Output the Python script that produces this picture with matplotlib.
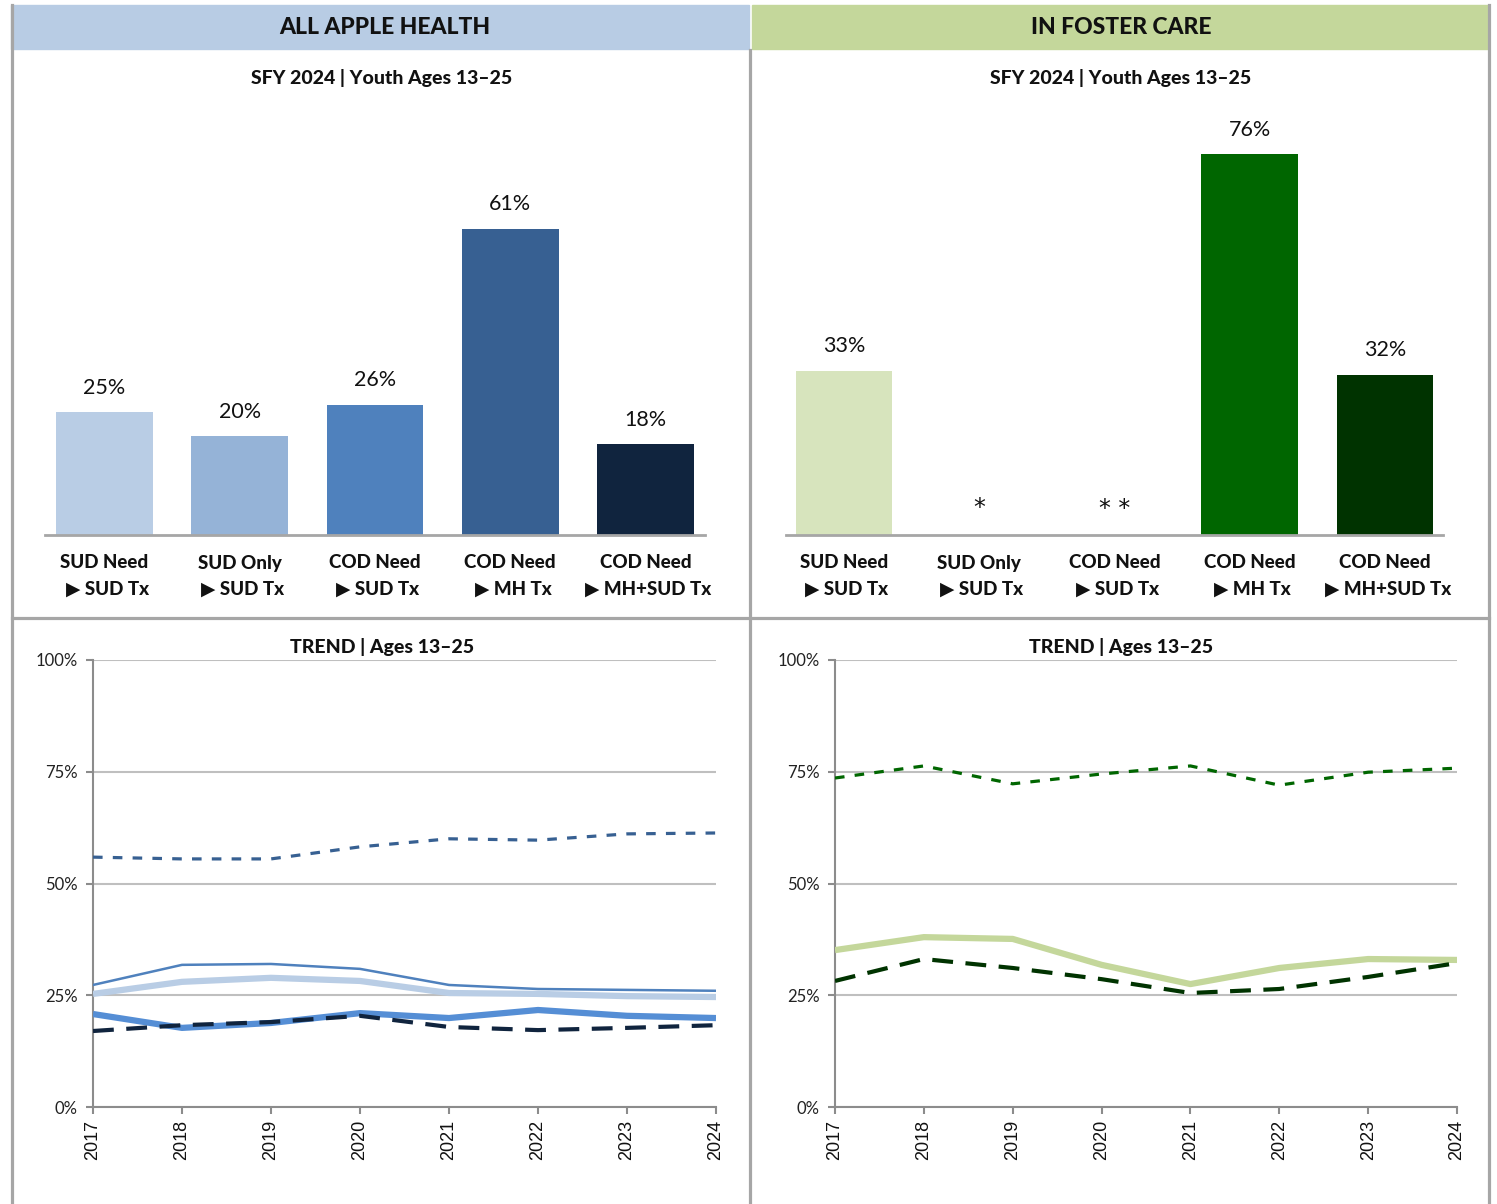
import matplotlib
matplotlib.use("Agg")
import matplotlib.pyplot as plt
from matplotlib.lines import Line2D
from matplotlib.patches import Rectangle
import numpy as np

W, H = 1497, 1204
FONT = ['Lato', 'DejaVu Sans']
plt.rcParams['font.family'] = FONT

# ---------------- data ----------------
bar_top_labels = ["SUD Need", "SUD Only", "COD Need", "COD Need", "COD Need"]
bar_bottom_labels = ["\u25B6 SUD Tx", "\u25B6 SUD Tx", "\u25B6 SUD Tx", "\u25B6 MH Tx", "\u25B6 MH+SUD Tx"]
aah_bar_values = [24.6, 19.8, 26.0, 61.3, 18.2]
aah_bar_labels = ["25%", "20%", "26%", "61%", "18%"]
fc_bar_values = [32.8, np.nan, np.nan, 76.2, 32.0]
fc_bar_labels = ["33%", "*", "**", "76%", "32%"]

years = [2017, 2018, 2019, 2020, 2021, 2022, 2023, 2024]
aah_sud_need = [25.3, 28.0, 28.9, 28.2, 25.5, 25.3, 24.8, 24.6]
aah_sud_only = [20.8, 17.7, 18.8, 21.0, 19.9, 21.7, 20.4, 19.9]
aah_cod_sud = [27.3, 31.8, 32.0, 30.9, 27.3, 26.4, 26.2, 26.0]
aah_cod_mh = [55.9, 55.5, 55.5, 58.2, 60.0, 59.7, 61.1, 61.3]
aah_cod_mhsud = [17.0, 18.3, 19.0, 20.4, 17.9, 17.2, 17.7, 18.3]

fc_sud_need = [35.1, 38.0, 37.6, 31.8, 27.5, 31.1, 33.1, 32.9]
fc_cod_mh = [73.6, 76.3, 72.3, 74.5, 76.3, 72.0, 74.9, 75.8]
fc_cod_mhsud = [28.2, 33.1, 31.1, 28.6, 25.5, 26.4, 29.1, 32.2]

y_ticks = [0, 25, 50, 75, 100]
y_tick_labels = ["0%", "25%", "50%", "75%", "100%"]

aah_bar_colors = ["#B9CDE5", "#95B3D7", "#4F81BD", "#376092", "#10243E"]
fc_bar_colors = ["#D7E4BD", "#D7E4BD", "#D7E4BD", "#006600", "#003300"]

# ---------------- helpers ----------------
fig = plt.figure(figsize=(W / 100, H / 100), dpi=100)
fig.patch.set_facecolor("white")

def rect(x0, y0, x1, y1):
    return [x0 / W, 1 - y1 / H, (x1 - x0) / W, (y1 - y0) / H]

def fx(x):
    return x / W

def fy(y):
    return 1 - y / H

GRAY = "#A6A6A6"
TXT = "#111111"

# header bands
fig.add_artist(Rectangle((fx(11), fy(49)), fx(749) - fx(11), fy(5) - fy(49),
                         transform=fig.transFigure, color="#B8CCE4", zorder=0))
fig.add_artist(Rectangle((fx(752), fy(49)), fx(1488) - fx(752), fy(5) - fy(49),
                         transform=fig.transFigure, color="#C4D79B", zorder=0))
fig.text(fx(385), fy(28), "ALL APPLE HEALTH", ha="center", va="center",
         fontsize=16.5, fontweight="black", color=TXT)
fig.text(fx(1121), fy(28), "IN FOSTER CARE", ha="center", va="center",
         fontsize=16.5, fontweight="black", color=TXT)

# frame lines
def vline(x, y0, y1):
    fig.add_artist(Line2D([fx(x), fx(x)], [fy(y0), fy(y1)], transform=fig.transFigure,
                          color=GRAY, lw=2.3, zorder=5))

def hline(y, x0, x1):
    fig.add_artist(Line2D([fx(x0), fx(x1)], [fy(y), fy(y)], transform=fig.transFigure,
                          color=GRAY, lw=2.3, zorder=5))

vline(12, 5, 1204)
vline(750, 50, 1204)
vline(1489, 5, 1204)
hline(618, 12, 1489)

# subtitles
for cx in (382, 1121):
    fig.text(fx(cx), fy(78), "SFY 2024 | Youth Ages 13\u201325", ha="center", va="center",
             fontsize=14, fontweight="black", color=TXT)
    fig.text(fx(cx), fy(647), "TREND | Ages 13\u201325", ha="center", va="center",
             fontsize=14, fontweight="black", color=TXT)

# ---------------- bar charts ----------------
def bar_panel(x0, x1, values, labels, colors):
    ax = fig.add_axes(rect(x0, 120, x1, 535))
    n = len(values)
    pad = ((x1 - x0) / 135.25 - (n - 1)) / 2
    xs = np.arange(n)
    vals = np.array(values, dtype=float)
    ax.bar(xs, np.nan_to_num(vals), width=0.717, color=colors, zorder=2)
    ax.set_xlim(-pad, n - 1 + pad)
    ax.set_ylim(0, 83)
    for i, (v, lab) in enumerate(zip(vals, labels)):
        if np.isnan(v):
            ax.text(i, 5.3, " ".join(lab), ha="center", va="center", fontsize=17,
                    family=['DejaVu Sans'], color=TXT)
        else:
            ax.text(i, v + 4.9, lab, ha="center", va="center", fontsize=15.5, color=TXT)
    for s in ["top", "right", "left"]:
        ax.spines[s].set_visible(False)
    ax.spines["bottom"].set_color(GRAY)
    ax.spines["bottom"].set_linewidth(2)
    ax.set_yticks([])
    ax.set_xticks([])
    tr = ax.get_xaxis_transform()
    for i in xs:
        ax.text(i, -28 / 415, bar_top_labels[i], transform=tr, ha="center", va="center",
                fontsize=13.5, fontweight="black", color=TXT, clip_on=False)
        ax.text(i + 0.02, -54 / 415, bar_bottom_labels[i], transform=tr, ha="center",
                va="center", fontsize=13.5, fontweight="black", color=TXT, clip_on=False)
    return ax

bar_panel(45, 705, aah_bar_values, aah_bar_labels, aah_bar_colors)
bar_panel(786, 1443, fc_bar_values, fc_bar_labels, fc_bar_colors)

# ---------------- trend charts ----------------
def trend_panel(x0, x1):
    ax = fig.add_axes(rect(x0, 660, x1, 1107))
    ax.set_xlim(years[0], years[-1])
    ax.set_ylim(0, 100)
    ax.set_yticks(y_ticks)
    ax.set_yticklabels(y_tick_labels, fontsize=12, color="#222222")
    ax.set_xticks(years)
    ax.set_xticklabels([str(y) for y in years], rotation=90, fontsize=13,
                       family=['Liberation Sans', 'DejaVu Sans'], color=TXT)
    ax.grid(axis="y", color="#BFBFBF", lw=1.5, zorder=0)
    for s in ["top", "right"]:
        ax.spines[s].set_visible(False)
    for s in ["left", "bottom"]:
        ax.spines[s].set_color("#8C8C8C")
        ax.spines[s].set_linewidth(1.5)
    ax.tick_params(axis="both", color="#8C8C8C", width=1.5, length=5)
    ax.tick_params(axis="y", pad=6)
    ax.tick_params(axis="x", pad=4)
    ax.set_axisbelow(True)
    return ax

ax3 = trend_panel(93, 716)
ax3.plot(years, aah_sud_need, color="#B9CDE5", lw=4.5, solid_capstyle="butt", zorder=3)
ax3.plot(years, aah_sud_only, color="#558ED5", lw=4.5, solid_capstyle="butt", zorder=3)
ax3.plot(years, aah_cod_sud, color="#4F81BD", lw=1.8, zorder=3)
ax3.plot(years, aah_cod_mh, color="#376092", lw=2.3, dashes=(3, 3.2), zorder=3)
ax3.plot(years, aah_cod_mhsud, color="#10243E", lw=3, dashes=(5, 3), zorder=4)

ax4 = trend_panel(835, 1457)
ax4.plot(years, fc_sud_need, color="#C4D79B", lw=4.5, solid_capstyle="butt", zorder=3)
ax4.plot(years, fc_cod_mh, color="#006600", lw=2.3, dashes=(3, 3.2), zorder=3)
ax4.plot(years, fc_cod_mhsud, color="#003300", lw=3, dashes=(5, 3), zorder=4)

fig.savefig("out.png", dpi=100, facecolor="white")
